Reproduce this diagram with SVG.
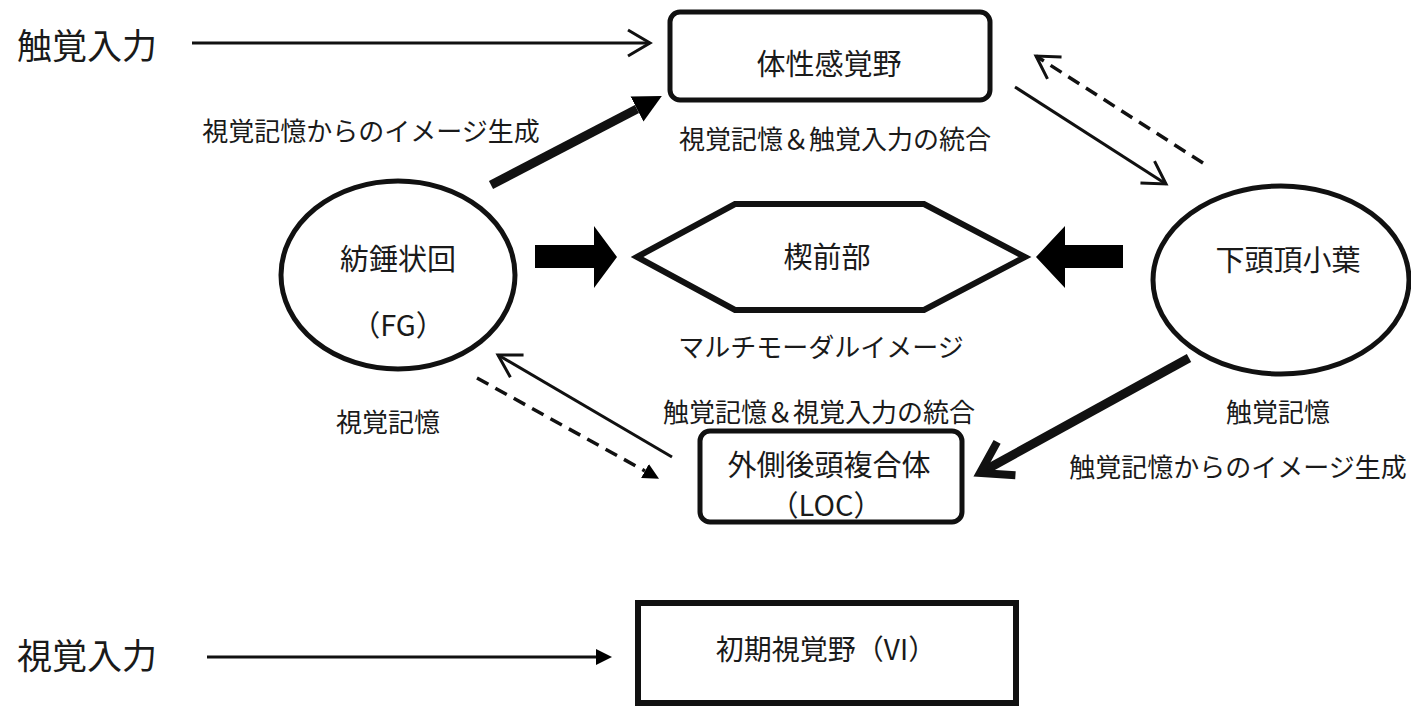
<svg xmlns="http://www.w3.org/2000/svg" width="1411" height="706" viewBox="0 0 1411 706">
<style>
text{font-family:"Noto Sans CJK JP","Noto Sans",sans-serif;fill:#1a1a1a;text-anchor:middle;dominant-baseline:central}
.lbl{font-size:26px}
.nd{font-size:29px}
.big{font-size:35px}
.box{fill:#fff;stroke:#111;stroke-width:5}
.ln{fill:none;stroke:#111;stroke-width:3}
.dash{fill:none;stroke:#111;stroke-width:3.5;stroke-dasharray:13 8}
.thick{fill:none;stroke:#111;stroke-width:9}
.blk{fill:#000}
</style>
<defs>
<marker id="chev" viewBox="-26 -16 30 32" refX="0" refY="0" markerWidth="30" markerHeight="32" markerUnits="userSpaceOnUse" orient="auto">
<path d="M-22,-13 L0,0 L-22,13" fill="none" stroke="#111" stroke-width="3"/>
</marker>
<marker id="chevThick" viewBox="-40 -26 48 52" refX="0" refY="0" markerWidth="48" markerHeight="52" markerUnits="userSpaceOnUse" orient="auto">
<path d="M-30,-19 L0,0 L-30,19" fill="none" stroke="#111" stroke-width="8"/>
</marker>
<marker id="triBig" viewBox="0 -16 32 32" refX="0" refY="0" markerWidth="32" markerHeight="32" markerUnits="userSpaceOnUse" orient="auto">
<path d="M0,-14 L28,0 L0,14 Z" fill="#000"/>
</marker>
<marker id="triSmall" viewBox="0 -10 18 20" refX="0" refY="0" markerWidth="18" markerHeight="20" markerUnits="userSpaceOnUse" orient="auto">
<path d="M0,-8 L16,0 L0,8 Z" fill="#000"/>
</marker>
</defs>
<rect width="1411" height="706" fill="#fff"/>

<g id="connectors">
<line class="ln" x1="192" y1="43" x2="650" y2="43" marker-end="url(#chev)"/>
<line class="thick" x1="491" y1="185" x2="637" y2="109" marker-end="url(#triBig)"/>
<line class="ln" x1="1015" y1="87" x2="1166" y2="184" marker-end="url(#chev)"/>
<line class="dash" x1="1203" y1="163" x2="1036" y2="56" marker-end="url(#chev)"/>
<polygon class="blk" points="535,245 594,245 594,226 617,257 594,288 594,268 535,268"/>
<polygon class="blk" points="1123,245 1065,245 1065,226 1036,257 1065,288 1065,268 1123,268"/>
<line class="ln" x1="672" y1="457" x2="498" y2="355" marker-end="url(#chev)"/>
<line class="dash" x1="477" y1="378" x2="645" y2="471" marker-end="url(#triSmall)"/>
<line class="thick" x1="1189" y1="358" x2="980" y2="473" marker-end="url(#chevThick)"/>
<line class="ln" x1="207" y1="657" x2="596" y2="657" marker-end="url(#triSmall)"/>
</g>

<g id="label-tactile-input"><text class="big" x="87" y="43">触覚入力</text></g>
<g id="label-visual-input"><text class="big" x="87" y="653">視覚入力</text></g>

<g id="node-somatosensory">
<rect class="box" x="670" y="12" width="320" height="88" rx="10"/>
<text class="nd" x="829" y="62">体性感覚野</text>
</g>
<text class="lbl" x="371" y="129">視覚記憶からのイメージ生成</text>
<text class="lbl" x="835" y="137">視覚記憶＆触覚入力の統合</text>

<g id="node-fg">
<ellipse class="box" cx="398" cy="275" rx="117" ry="94"/>
<text class="nd" x="398" y="257">紡錘状回</text>
<text class="nd" x="398" y="323">（FG）</text>
</g>

<g id="node-precuneus">
<polygon class="box" style="stroke-width:6" points="637,257 735,204 924,204 1025,257 924,310 735,310"/>
<text class="nd" x="827" y="255">楔前部</text>
</g>
<text class="lbl" x="821" y="345">マルチモーダルイメージ</text>

<g id="node-ipl">
<ellipse class="box" cx="1281" cy="280" rx="128" ry="94"/>
<text class="nd" x="1288" y="258">下頭頂小葉</text>
</g>

<text class="lbl" x="388" y="420">視覚記憶</text>
<text class="lbl" x="819" y="410">触覚記憶＆視覚入力の統合</text>
<text class="lbl" x="1278" y="410">触覚記憶</text>
<text class="lbl" x="1238" y="465">触覚記憶からのイメージ生成</text>

<g id="node-loc">
<rect class="box" x="700" y="431" width="262" height="91" rx="10"/>
<text class="nd" x="829" y="463">外側後頭複合体</text>
<text class="nd" x="826" y="503">（LOC）</text>
</g>

<g id="node-v1">
<rect class="box" style="stroke-width:6" x="638" y="603" width="378" height="100"/>
<text class="nd" style="font-size:28px" x="826" y="648">初期視覚野（VI）</text>
</g>
</svg>
